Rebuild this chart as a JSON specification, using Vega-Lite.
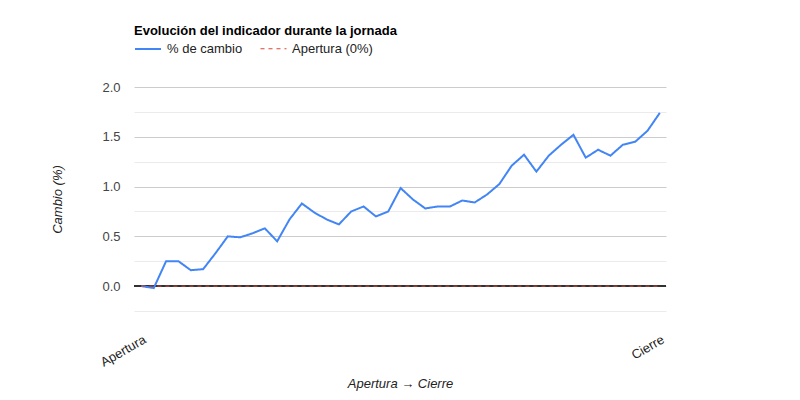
{
  "$schema": "https://vega.github.io/schema/vega-lite/v6.json",
  "autosize": "none",
  "width": 532,
  "height": 224,
  "padding": {"left": 134, "top": 87, "right": 134, "bottom": 89},
  "background": "white",
  "config": {
    "font": "Liberation Sans",
    "view": {"stroke": null}
  },
  "title": {
    "text": "Evolución del indicador durante la jornada",
    "anchor": "start",
    "frame": "group",
    "fontSize": 13,
    "fontWeight": "bold",
    "color": "#000000",
    "font": "Liberation Sans",
    "offset": -3
  },
  "data": {
    "values": [
      {"i": 0, "cambio": 0.0, "apertura": 0},
      {"i": 1, "cambio": -0.02, "apertura": 0},
      {"i": 2, "cambio": 0.25, "apertura": 0},
      {"i": 3, "cambio": 0.25, "apertura": 0},
      {"i": 4, "cambio": 0.16, "apertura": 0},
      {"i": 5, "cambio": 0.17, "apertura": 0},
      {"i": 6, "cambio": 0.33, "apertura": 0},
      {"i": 7, "cambio": 0.5, "apertura": 0},
      {"i": 8, "cambio": 0.49, "apertura": 0},
      {"i": 9, "cambio": 0.53, "apertura": 0},
      {"i": 10, "cambio": 0.58, "apertura": 0},
      {"i": 11, "cambio": 0.45, "apertura": 0},
      {"i": 12, "cambio": 0.67, "apertura": 0},
      {"i": 13, "cambio": 0.83, "apertura": 0},
      {"i": 14, "cambio": 0.74, "apertura": 0},
      {"i": 15, "cambio": 0.67, "apertura": 0},
      {"i": 16, "cambio": 0.62, "apertura": 0},
      {"i": 17, "cambio": 0.75, "apertura": 0},
      {"i": 18, "cambio": 0.8, "apertura": 0},
      {"i": 19, "cambio": 0.7, "apertura": 0},
      {"i": 20, "cambio": 0.75, "apertura": 0},
      {"i": 21, "cambio": 0.985, "apertura": 0},
      {"i": 22, "cambio": 0.87, "apertura": 0},
      {"i": 23, "cambio": 0.78, "apertura": 0},
      {"i": 24, "cambio": 0.8, "apertura": 0},
      {"i": 25, "cambio": 0.8, "apertura": 0},
      {"i": 26, "cambio": 0.86, "apertura": 0},
      {"i": 27, "cambio": 0.84, "apertura": 0},
      {"i": 28, "cambio": 0.92, "apertura": 0},
      {"i": 29, "cambio": 1.025, "apertura": 0},
      {"i": 30, "cambio": 1.21, "apertura": 0},
      {"i": 31, "cambio": 1.32, "apertura": 0},
      {"i": 32, "cambio": 1.15, "apertura": 0},
      {"i": 33, "cambio": 1.31, "apertura": 0},
      {"i": 34, "cambio": 1.42, "apertura": 0},
      {"i": 35, "cambio": 1.52, "apertura": 0},
      {"i": 36, "cambio": 1.29, "apertura": 0},
      {"i": 37, "cambio": 1.37, "apertura": 0},
      {"i": 38, "cambio": 1.31, "apertura": 0},
      {"i": 39, "cambio": 1.42, "apertura": 0},
      {"i": 40, "cambio": 1.45, "apertura": 0},
      {"i": 41, "cambio": 1.56, "apertura": 0},
      {"i": 42, "cambio": 1.74, "apertura": 0}
    ]
  },
  "resolve": {"axis": {"y": "independent"}},
  "layer": [
    {
      "mark": {"type": "rule", "color": "#333333", "strokeWidth": 1},
      "encoding": {
        "y": {
          "datum": 0,
          "type": "quantitative",
          "scale": {"domain": [-0.25, 2.0], "nice": false},
          "axis": {
            "orient": "left",
            "values": [-0.25, 0.25, 0.75, 1.25, 1.75],
            "labels": false,
            "ticks": false,
            "domain": false,
            "grid": true,
            "gridColor": "#ebebeb",
            "title": null
          }
        }
      }
    },
    {
      "transform": [
        {"fold": ["cambio", "apertura"], "as": ["serie_key", "valor"]},
        {"lookup": "serie_key", "from": {"data": {"values": [
          {"serie_key": "cambio", "serie": "% de cambio"},
          {"serie_key": "apertura", "serie": "Apertura (0%)"}
        ]}, "key": "serie_key", "fields": ["serie"]}}
      ],
      "mark": {"type": "line", "interpolate": "linear"},
      "encoding": {
        "x": {
          "field": "i",
          "type": "quantitative",
          "scale": {"domain": [-0.6, 42.5], "nice": false, "zero": false},
          "axis": {
            "values": [0, 42],
            "labelExpr": "datum.value === 0 ? 'Apertura' : 'Cierre'",
            "labelAngle": -30,
            "labelAlign": "right",
            "labelBaseline": "top",
            "labelFontSize": 13,
            "labelColor": "#222222",
            "labelPadding": 22,
            "labelOverlap": false,
            "grid": false,
            "ticks": false,
            "domain": false,
            "title": "Apertura → Cierre",
            "titleFontSize": 13,
            "titleFontStyle": "italic",
            "titleFontWeight": "normal",
            "titleColor": "#222222",
            "titlePadding": 8
          }
        },
        "y": {
          "field": "valor",
          "type": "quantitative",
          "scale": {"domain": [-0.25, 2.0], "nice": false},
          "axis": {
            "orient": "left",
            "values": [0, 0.5, 1, 1.5, 2],
            "format": ".1f",
            "labelOverlap": false,
            "labelFontSize": 13,
            "labelColor": "#444444",
            "labelPadding": 14,
            "ticks": false,
            "domain": false,
            "grid": true,
            "gridColor": "#cccccc",
            "gridWidth": 1,
            "title": "Cambio (%)",
            "titleFontSize": 13,
            "titleFontStyle": "italic",
            "titleFontWeight": "normal",
            "titleColor": "#222222",
            "titlePadding": 37
          }
        },
        "color": {
          "field": "serie",
          "type": "nominal",
          "scale": {"domain": ["% de cambio", "Apertura (0%)"], "range": ["#4285f4", "#db4437"]},
          "legend": {
            "title": null,
            "orient": "none",
            "legendX": 0,
            "legendY": -52,
            "direction": "horizontal",
            "symbolType": "stroke",
            "symbolSize": 676,
            "labelFontSize": 13,
            "labelColor": "#222222",
            "columnPadding": 15,
            "labelOffset": 5
          }
        },
        "strokeDash": {
          "field": "serie",
          "type": "nominal",
          "scale": {"domain": ["% de cambio", "Apertura (0%)"], "range": [[1, 0], [4, 4]]},
          "legend": {"title": null}
        },
        "strokeWidth": {
          "field": "serie",
          "type": "nominal",
          "scale": {"domain": ["% de cambio", "Apertura (0%)"], "range": [2, 1]},
          "legend": {"title": null}
        }
      }
    }
  ]
}
